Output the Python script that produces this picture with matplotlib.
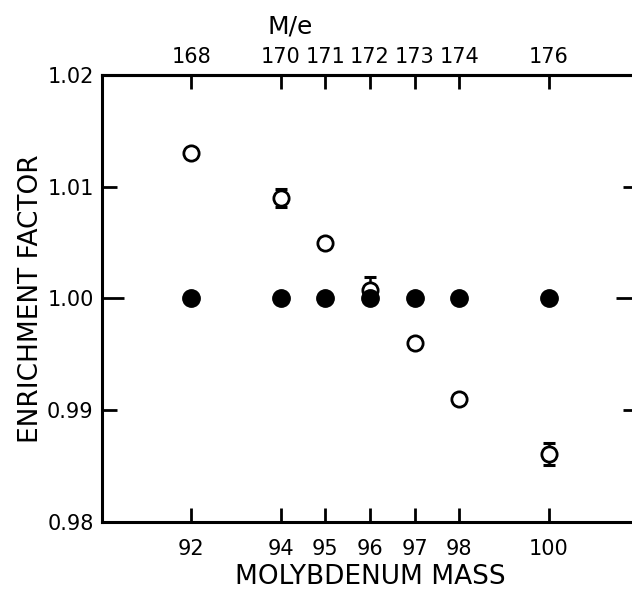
import matplotlib
matplotlib.use('Agg')
import matplotlib.pyplot as plt

# Molybdenum isotope data
mo_mass = [92, 94, 95, 96, 97, 98, 100]
me_values = [168, 170, 171, 172, 173, 174, 176]
enrichment = [1.013, 1.009, 1.005, 1.0008, 0.996, 0.991, 0.9861]
enrich_err = [0.0, 0.0008, 0.0, 0.0011, 0.0, 0.0, 0.0010]
reference = [1.0, 1.0, 1.0, 1.0, 1.0, 1.0, 1.0]

plt.rcParams['font.family'] = 'DejaVu Sans'

fig = plt.figure(figsize=(6.32, 5.91), dpi=100)
ax = fig.add_axes([0.1614, 0.1168, 0.848, 0.7563])

# error bars behind the open circles
err_x = [m for m, e in zip(mo_mass, enrich_err) if e > 0]
err_y = [v for v, e in zip(enrichment, enrich_err) if e > 0]
err_e = [e for e in enrich_err if e > 0]
ax.errorbar(err_x, err_y, yerr=err_e, fmt='none', ecolor='black',
            elinewidth=1.8, capsize=4.3, capthick=2.2, zorder=2)
ax.plot(mo_mass, enrichment, 'o', markersize=11, markerfacecolor='white',
        markeredgecolor='black', markeredgewidth=2.0, zorder=3)
ax.plot(mo_mass, reference, 'o', markersize=12.5, color='black', zorder=4)

ax.set_xlim(90, 102)
ax.set_ylim(0.98, 1.02)

for s in ax.spines.values():
    s.set_linewidth(2.2)
ax.spines['right'].set_visible(False)

ax.set_xticks(mo_mass)
ax.set_xticklabels([str(m) for m in mo_mass])
ax.tick_params(axis='x', direction='in', length=10, width=2, labelsize=15, pad=12)

ax.set_yticks([1.00])
ax.set_yticks([0.98, 0.99, 1.01, 1.02], minor=True)
ax.set_yticklabels(['1.00'])
ax.set_yticklabels(['0.98', '0.99', '1.01', '1.02'], minor=True)
ax.tick_params(axis='y', which='major', direction='in', length=16, width=2,
               labelsize=15, pad=6, right=True)
ax.tick_params(axis='y', which='minor', direction='in', length=10.5, width=2,
               labelsize=15, pad=6, right=True)

sec = ax.secondary_xaxis('top', functions=(lambda x: x + 76, lambda x: x - 76))
sec.set_xticks(me_values)
sec.set_xticklabels([str(v) for v in me_values])
sec.tick_params(axis='x', direction='in', length=10, width=2, labelsize=15, pad=6)
sec.spines['top'].set_linewidth(2.2)

fig.text(290 / 632, 1 - 27 / 591, 'M/e', fontsize=18, ha='center', va='center')
ax.set_xlabel('MOLYBDENUM MASS', fontsize=19, labelpad=4)
ax.set_ylabel('ENRICHMENT FACTOR', fontsize=19, labelpad=2)

fig.savefig('out.png', dpi=100)
